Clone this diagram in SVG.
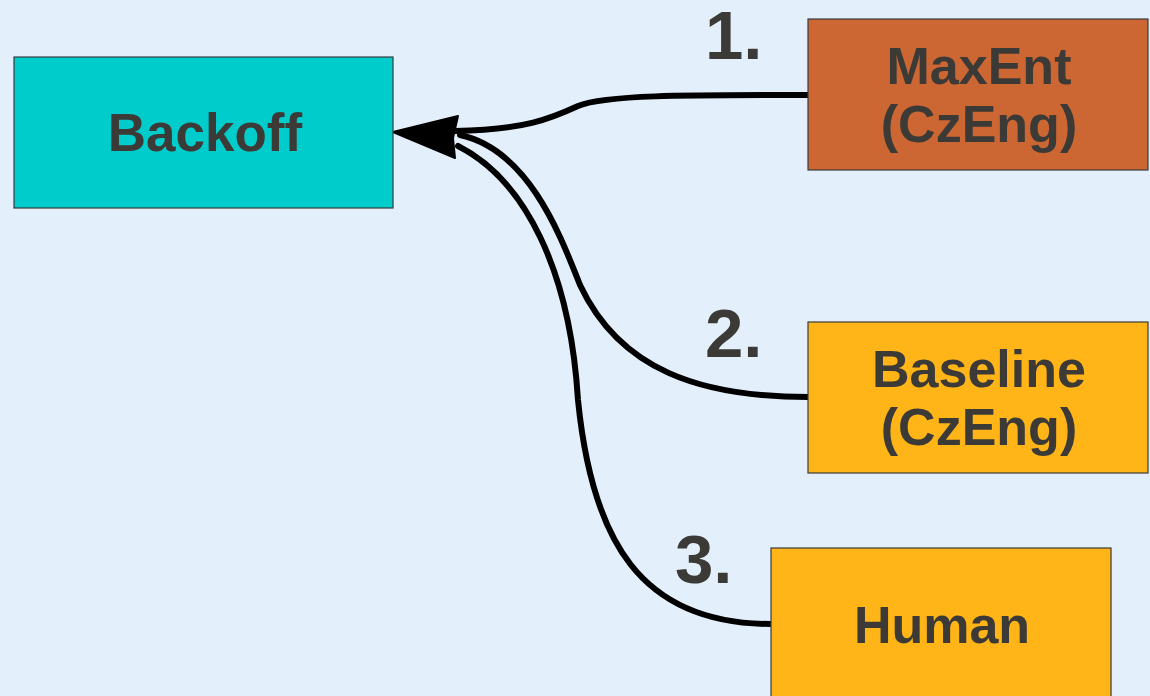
<svg xmlns="http://www.w3.org/2000/svg" width="1150" height="696" viewBox="0 0 1150 696">
  <style>
    .box { stroke: #3a3a3a; stroke-width: 1.2; }
    .lbl { font-family: "Liberation Sans", Arial, sans-serif; font-weight: bold; fill: #3c3a36; text-anchor: middle; }
    .node { font-size: 52px; }
    .num { font-size: 69px; text-anchor: start; }
    .conn { fill: none; stroke: #000; stroke-width: 6; stroke-linecap: round; }
  </style>
  <rect x="0" y="0" width="1150" height="696" fill="#e3effb"/>

  <g id="connectors">
    <path class="conn" d="M808,95 C680,95 605,95 578,106 C552,118 525,130 455,131"/>
    <path class="conn" d="M808,397 C700,397 620,370 580,285 C562,240 530,150 460,135"/>
    <path class="conn" d="M771,624 C640,624 592,540 578,400 C570,270 525,180 458,146"/>
    <polygon points="393,132 458,116 453,138 455,158" fill="#000" stroke="#000" stroke-width="2" stroke-linejoin="round"/>
  </g>

  <g id="backoff">
    <rect class="box" x="14" y="57" width="379" height="151" fill="#00cccc"/>
    <text class="lbl node" x="205" y="151" style="font-size:53px">Backoff</text>
  </g>

  <g id="maxent">
    <rect class="box" x="808" y="19" width="340" height="151" fill="#cc6633"/>
    <text class="lbl node" x="979" y="84">MaxEnt</text>
    <text class="lbl node" x="979" y="142">(CzEng)</text>
  </g>

  <g id="baseline">
    <rect class="box" x="808" y="322" width="340" height="151" fill="#ffb517"/>
    <text class="lbl node" x="979" y="387">Baseline</text>
    <text class="lbl node" x="979" y="445">(CzEng)</text>
  </g>

  <g id="human">
    <rect class="box" x="771" y="548" width="340" height="160" fill="#ffb517"/>
    <text class="lbl node" x="942" y="643">Human</text>
  </g>

  <g id="labels">
    <text class="lbl num" x="705" y="59">1.</text>
    <text class="lbl num" x="705" y="357">2.</text>
    <text class="lbl num" x="675" y="583">3.</text>
  </g>
</svg>
